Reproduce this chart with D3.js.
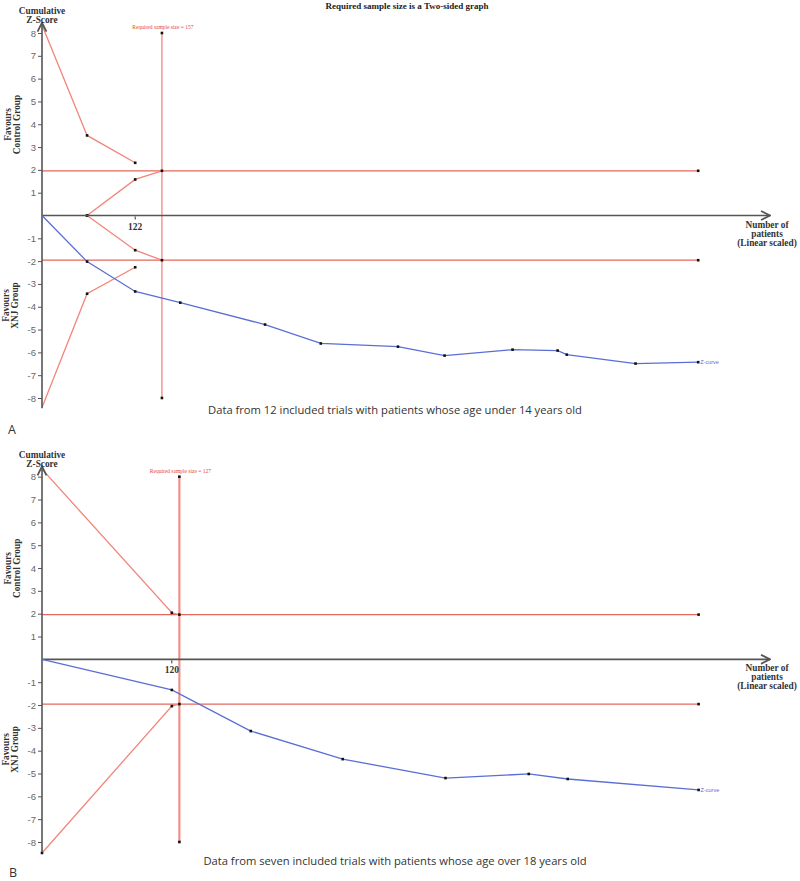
<!DOCTYPE html>
<html><head><meta charset="utf-8">
<script src="https://cdn.jsdelivr.net/npm/d3@7"></script>
<style>body{margin:0;background:#fff}svg{display:block}</style>
</head><body>
<svg id="c" width="800" height="881"></svg>
<script>
// ---------- DATA ----------
const title = "Required sample size is a Two-sided graph";
const yTicks = [-8,-7,-6,-5,-4,-3,-2,-1,1,2,3,4,5,6,7,8];

// Panel A
const risA = 157;
const xTickA = [122];
const patientsA = [0, 59, 122, 181, 292, 365, 466, 527, 616, 675, 687, 777, 859];
const zA        = [0, -2.02, -3.33, -3.82, -4.78, -5.61, -5.75, -6.14, -5.88, -5.92, -6.10, -6.49, -6.43];
const upperPatA = [0, 59, 122];
const upperZA   = [8.35, 3.51, 2.31];
const lowerPatA = [0, 59, 122];
const lowerZA   = [-8.42, -3.43, -2.27];
const futUpPatA = [59, 122, 157];
const futUpZA   = [0, 1.58, 1.96];
const futLoPatA = [59, 122, 157];
const futLoZA   = [0, -1.52, -1.96];
const captionA = "Data from 12 included trials with patients whose age under 14 years old";

// Panel B
const risB = 127;
const xTickB = [120];
const patientsB = [0, 120, 193, 278, 373, 450, 486, 607];
const zB        = [0, -1.34, -3.14, -4.37, -5.20, -5.02, -5.24, -5.72];
const upperPatB = [0, 120, 127];
const upperZB   = [8.33, 2.04, 1.96];
const lowerPatB = [0, 120, 127];
const lowerZB   = [-8.48, -2.05, -1.96];
const captionB = "Data from seven included trials with patients whose age over 18 years old";

const conv = 1.96;

// ---------- DRAW ----------
const svg = d3.select("#c");
const serif = "'Liberation Serif','Times New Roman',serif";
const C = {bound:"#f2857a", hline:"#e2685c", ris:"#f29088", blue:"#5a6ed6", axis:"#555"};

svg.append("text").attr("x", 407).attr("y", 9).attr("text-anchor","middle")
  .attr("font-family", serif).attr("font-weight","bold").attr("font-size", 9).attr("fill","#222")
  .text(title);

const defs = svg.append("defs");
defs.append("marker").attr("id","arr").attr("viewBox","0 0 10 10").attr("refX",9).attr("refY",5)
  .attr("markerWidth",7).attr("markerHeight",7).attr("orient","auto-start-reverse")
  .append("path").attr("d","M1,1 L9,5 L1,9").attr("fill","none").attr("stroke",C.axis).attr("stroke-width",1.6);

function panel(o){
  const g = svg.append("g");
  const x = d3.scaleLinear().domain([0, o.xMax]).range([42, 770]);
  const y = d3.scaleLinear().domain([-8, 8]).range([o.yBot, o.yTop]);
  const line = d3.line().x(d=>x(d[0])).y(d=>y(d[1]));
  const zip = (a,b)=>a.map((v,i)=>[v,b[i]]);
  const dot = (pts)=>g.append("g").selectAll("rect").data(pts).join("rect")
     .attr("x",d=>x(d[0])-1.3).attr("y",d=>y(d[1])-1.3).attr("width",2.6).attr("height",2.6).attr("fill","#111");

  // y axis ticks
  const ax = g.append("g").attr("transform",`translate(42,0)`)
    .call(d3.axisLeft(y).tickValues(yTicks).tickSize(4).tickPadding(2).tickFormat(d=>d));
  ax.select(".domain").remove();
  ax.selectAll("line").attr("stroke",C.axis);
  ax.selectAll("text").attr("font-family","'Liberation Sans',Arial,sans-serif").attr("font-size",9.5).attr("fill","#666");

  // horizontal conventional boundaries
  const last = o.pat[o.pat.length-1];
  [conv,-conv].forEach(v=>{
    g.append("path").attr("d",line([[0,v],[last,v]])).attr("stroke",C.hline).attr("stroke-width",1.3).attr("fill","none");
    dot([[last,v]]);
  });

  // RIS vertical
  g.append("path").attr("d",line([[o.ris,8],[o.ris,-8]])).attr("stroke",C.ris).attr("stroke-width",o.risW).attr("fill","none");
  dot([[o.ris,8],[o.ris,-8]]);
  g.append("text").attr("x",x(o.ris)+1).attr("y",y(8)-4).attr("text-anchor","middle")
    .attr("font-family",serif).attr("font-size",5.5).attr("fill","#e8443a")
    .text("Required sample size = " + o.ris);

  // boundaries
  o.bounds.forEach(b=>{
    const pts = zip(b[0],b[1]);
    g.append("path").attr("d",line(pts)).attr("stroke",C.bound).attr("stroke-width",1.3).attr("fill","none");
    dot(pts.filter((p,i)=>b[2] || i>0));
  });

  // axes
  g.append("line").attr("x1",42).attr("x2",42).attr("y1",y(-8.45)).attr("y2",y(8.45))
    .attr("stroke",C.axis).attr("stroke-width",1.6).attr("marker-end","url(#arr)");
  g.append("line").attr("x1",42).attr("x2",770).attr("y1",y(0)).attr("y2",y(0))
    .attr("stroke",C.axis).attr("stroke-width",1.6).attr("marker-end","url(#arr)");

  // x tick
  o.xTicks.forEach(t=>{
    g.append("line").attr("x1",x(t)).attr("x2",x(t)).attr("y1",y(0)+1).attr("y2",y(0)+4).attr("stroke","#333");
    g.append("text").attr("x",x(t)).attr("y",y(0)+14).attr("text-anchor","middle")
      .attr("font-family",serif).attr("font-weight","bold").attr("font-size",9.5).attr("fill","#333").text(t);
  });

  // z-curve
  const zp = zip(o.pat,o.z);
  g.append("path").attr("d",line(zp)).attr("stroke",C.blue).attr("stroke-width",1.3).attr("fill","none");
  dot(zp.slice(1));
  g.append("text").attr("x",x(last)+2).attr("y",y(o.z[o.z.length-1])+2).attr("font-family","'Liberation Sans',Arial,sans-serif")
    .attr("font-size",5.5).attr("fill",C.blue).text("Z-curve");

  // labels
  const lab = (txt,xx,yy,rot)=>{
    g.append("text").attr("font-family",serif).attr("font-weight","bold").attr("font-size",9.3).attr("fill","#333")
      .attr("text-anchor","middle").attr("transform",`translate(${xx},${yy})` + (rot?" rotate(-90)":"")).text(txt);
  };
  lab("Cumulative",42,y(8)-19);
  lab("Z-Score",42,y(8)-10);
  const y0 = y(0);
  lab("Favours",11,y0-91,true);
  lab("Control Group",20,y0-91,true);
  lab("Favours",9,y0+90,true);
  lab("XNJ Group",18,y0+90,true);
  lab("Number of",767,y0+12);
  lab("patients",767,y0+21);
  lab("(Linear scaled)",767,y0+30);

  // caption
  svg.append("text").attr("x",395).attr("y",o.capY).attr("text-anchor","middle")
    .attr("font-family","'Open Sans',sans-serif").attr("font-size",11.2).attr("fill","#333").text(o.caption);
  svg.append("text").attr("x",o.letterX).attr("y",o.letterY).attr("font-family","'Open Sans',sans-serif")
    .attr("font-size",12.5).attr("fill","#333").text(o.letter);
}

panel({xMax:953, yTop:33, yBot:398, ris:risA, risW:1.4, pat:patientsA, z:zA, xTicks:xTickA,
  bounds:[[upperPatA,upperZA,false],[lowerPatA,lowerZA,false],[futUpPatA,futUpZA,true],[futLoPatA,futLoZA,true]],
  caption:captionA, capY:414, letter:"A", letterX:8, letterY:434});
panel({xMax:673, yTop:476.7, yBot:842, ris:risB, risW:2.2, pat:patientsB, z:zB, xTicks:xTickB,
  bounds:[[upperPatB,upperZB,false],[lowerPatB,lowerZB,true]],
  caption:captionB, capY:865, letter:"B", letterX:9, letterY:877});
</script>
</body></html>
